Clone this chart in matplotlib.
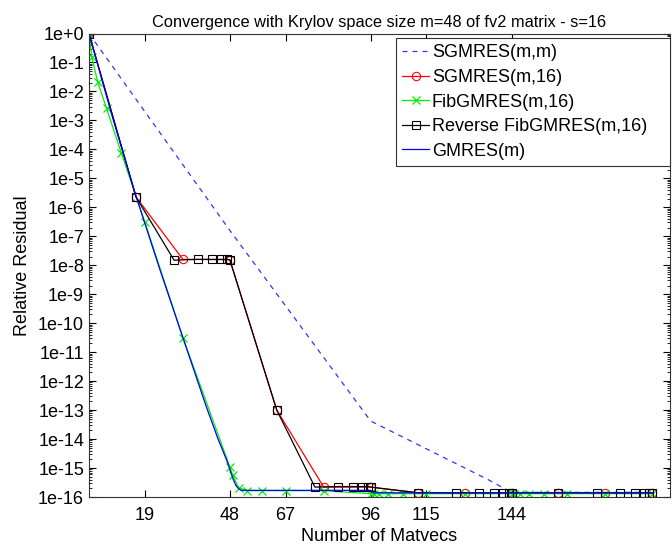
import matplotlib
matplotlib.use("Agg")
import matplotlib.pyplot as plt
from matplotlib.ticker import FixedLocator, LogLocator, NullFormatter

plt.rcParams["font.family"] = ["Liberation Sans", "DejaVu Sans"]

# SGMRES(m,m)
sg_mm_x = [0, 48, 96, 136, 140, 144, 192]
sg_mm_y = [1, 1.6e-7, 4.2e-14, 4e-16, 2.4e-16, 1.45e-16, 1.45e-16]

# SGMRES(m,16)
sg16_x = [0, 16, 32, 48, 64, 80, 96, 112, 128, 144, 160, 176, 192]
sg16_y = [1, 2.3e-6, 1.6e-8, 1.55e-8, 1e-13, 2.2e-16, 2.2e-16,
          1.4e-16, 1.4e-16, 1.4e-16, 1.4e-16, 1.4e-16, 1.4e-16]

# FibGMRES(m,16)
fib_x = [0, 1, 3, 6, 11, 19, 32, 48, 49, 51, 54, 59, 67, 80, 96,
         97, 99, 102, 107, 115, 128, 144, 145, 147, 150, 155, 163, 176, 192]
fib_y = [1, 1.5e-1, 2.1e-2, 2.6e-3, 7.6e-5, 3.2e-7, 3.2e-11, 1.1e-15,
         5.6e-16, 2.1e-16, 1.65e-16, 1.65e-16, 1.65e-16, 1.65e-16, 1.3e-16,
         1.3e-16, 1.3e-16, 1.3e-16, 1.3e-16, 1.3e-16, 1.3e-16, 1.3e-16,
         1.3e-16, 1.3e-16, 1.3e-16, 1.3e-16, 1.3e-16, 1.3e-16, 1.3e-16]

# Reverse FibGMRES(m,16)
rev_x = [0, 16, 29, 37, 42, 45, 47, 48, 64, 77, 85, 90, 93, 95, 96,
         112, 125, 133, 138, 141, 143, 144, 160, 173, 181, 186, 189, 191, 192]
rev_y = [1, 2.3e-6, 1.5e-8, 1.6e-8, 1.6e-8, 1.6e-8, 1.6e-8, 1.55e-8,
         1e-13, 2.2e-16, 2.3e-16, 2.3e-16, 2.3e-16, 2.3e-16, 2.2e-16,
         1.4e-16, 1.4e-16, 1.4e-16, 1.4e-16, 1.4e-16, 1.4e-16, 1.4e-16,
         1.4e-16, 1.4e-16, 1.4e-16, 1.4e-16, 1.4e-16, 1.4e-16, 1.4e-16]

# GMRES(m)
gm_x = [0, 8, 16, 24, 32, 40, 44, 47, 48, 49, 50, 51, 52, 96, 97, 192]
gm_y = [1, 1.3e-3, 2.5e-6, 8e-9, 3.2e-11, 1.3e-13, 1e-14, 1.8e-15, 9e-16,
        4.5e-16, 2.6e-16, 1.9e-16, 1.7e-16, 1.7e-16, 1.4e-16, 1.4e-16]

xticks = [19, 48, 67, 96, 115, 144]
yticks = [10.0 ** -k for k in range(17)]
ylabels = ["1e+0"] + ["1e-%d" % k for k in range(1, 17)]

fig = plt.figure(figsize=(6.72, 5.46), dpi=100)
ax = fig.add_axes([0.1324, 0.0897, 0.8646, 0.8489])

ax.semilogy(sg_mm_x, sg_mm_y, "--", color="#3333ff", lw=0.9, dashes=(4, 4),
            label="SGMRES(m,m)")
ax.semilogy(sg16_x, sg16_y, "-o", color="#ff0000", lw=0.9, ms=6,
            mfc="none", mew=0.8, label="SGMRES(m,16)")
ax.semilogy(fib_x, fib_y, "-x", color="#00ee00", lw=0.9, ms=6,
            mew=0.9, label="FibGMRES(m,16)")
ax.semilogy(rev_x, rev_y, "-s", color="black", lw=0.9, ms=6,
            mfc="none", mew=0.8, label="Reverse FibGMRES(m,16)")
ax.semilogy(gm_x, gm_y, "-", color="#0000ff", lw=0.9, label="GMRES(m)")

ax.set_xlim(0, 198)
ax.set_ylim(1e-16, 1.0)
ax.set_xticks(xticks)
ax.set_xticklabels([str(t) for t in xticks])
ax.yaxis.set_major_locator(FixedLocator(yticks))
ax.set_yticklabels(ylabels)
ax.yaxis.set_minor_locator(LogLocator(base=10, subs=range(2, 10), numticks=40))
ax.yaxis.set_minor_formatter(NullFormatter())
ax.tick_params(which="both", direction="in", top=True, right=True,
               labelsize=13)
ax.tick_params(axis="x", pad=7)
ax.tick_params(which="major", length=5)
ax.tick_params(which="minor", length=2.5)
for s in ax.spines.values():
    s.set_linewidth(0.8)
    s.set_color("#333333")

ax.set_title("Convergence with Krylov space size m=48 of fv2 matrix - s=16",
             fontsize=11.8, pad=5)
ax.set_xlabel("Number of Matvecs", fontsize=13, labelpad=3)
ax.set_ylabel("Relative Residual", fontsize=13, labelpad=5)

# legend box stretched to the right edge of the axes, like the original
leg = ax.legend(loc="upper left", bbox_to_anchor=(0.528, 0.5, 0.472, 0.49),
                mode="expand", fontsize=13, fancybox=False, framealpha=1,
                edgecolor="#333333", handlelength=1.5, handletextpad=0.15,
                borderpad=0.35, labelspacing=0.42, borderaxespad=0)
leg.get_frame().set_linewidth(0.8)

fig.savefig("out.png", dpi=100)
